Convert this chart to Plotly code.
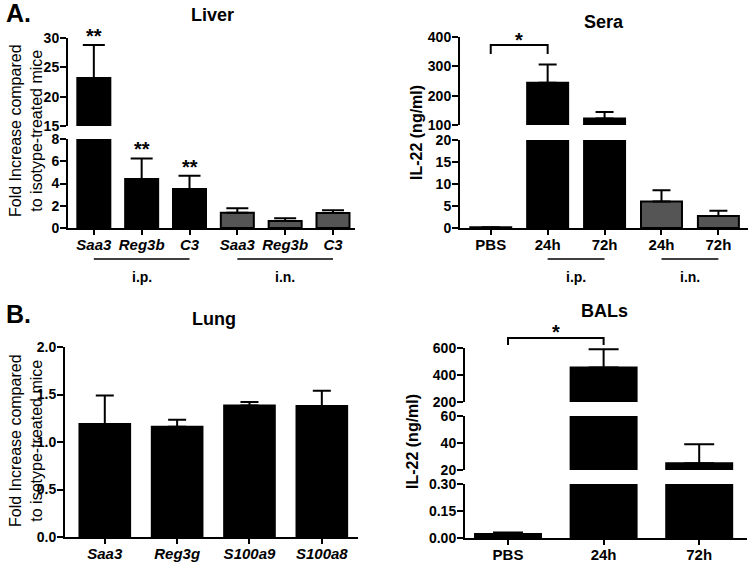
import plotly.graph_objects as go

W, H = 750, 562
FONT = "Liberation Sans, Arial, sans-serif"

# ---------------- data ----------------
liver_labels = ["Saa3", "Reg3b", "C3", "Saa3", "Reg3b", "C3"]
liver_mean = [23.2, 4.4, 3.5, 1.38, 0.63, 1.35]
liver_top = [28.8, 6.25, 4.7, 1.77, 0.87, 1.6]
liver_route = ["i.p.", "i.p.", "i.p.", "i.n.", "i.n.", "i.n."]

sera_labels = ["PBS", "24h", "72h", "24h", "72h"]
sera_mean = [0.15, 244, 122, 6.0, 2.7]
sera_top = [0.15, 306, 144, 8.6, 3.9]
sera_route = ["none", "i.p.", "i.p.", "i.n.", "i.n."]

lung_labels = ["Saa3", "Reg3g", "S100a9", "S100a8"]
lung_mean = [1.19, 1.16, 1.385, 1.38]
lung_top = [1.49, 1.235, 1.42, 1.54]

bal_labels = ["PBS", "24h", "72h"]
bal_mean = [0.022, 455, 25]
bal_top = [0.03, 590, 39]

liver_ticks_low = [0, 2, 4, 6, 8]
liver_ticks_high = [15, 20, 25, 30]
sera_ticks_low = [0, 5, 10, 15, 20]
sera_ticks_high = [100, 200, 300, 400]
lung_ticks = [0.0, 0.5, 1.0, 1.5, 2.0]
bal_ticks_low = [0.00, 0.15, 0.30]
bal_ticks_mid = [20, 40, 60]
bal_ticks_high = [200, 400, 600]


def px(x):
    return x / W


def py(y):
    return 1 - y / H


def colors(route):
    return ["#555555" if r == "i.n." else "black" for r in route]


fig = go.Figure()


def add_bars(xa, ya, mean, top, cols, width, cap):
    xs = list(range(len(mean)))
    fig.add_trace(go.Bar(
        x=xs, y=mean, xaxis=xa, yaxis=ya, width=width,
        marker=dict(color=cols, line=dict(color="black", width=2)),
        error_y=dict(type="data", symmetric=False,
                     array=[t - m for t, m in zip(top, mean)],
                     arrayminus=[0] * len(mean),
                     color="black", thickness=2, width=cap),
        showlegend=False, hoverinfo="skip"))


# Liver
for ya in ["y", "y2"]:
    add_bars("x", ya, liver_mean, liver_top, colors(liver_route), 0.69, 11)
# Sera
for ya in ["y3", "y4"]:
    add_bars("x2", ya, sera_mean, sera_top, colors(sera_route), 0.72, 9)
# Lung
add_bars("x3", "y5", lung_mean, lung_top, ["black"] * 4, 0.7, 9)
# BALs
for ya in ["y6", "y7", "y8"]:
    add_bars("x4", ya, bal_mean, bal_top, ["black"] * 3, 0.69, 15)

tickfont = dict(family=FONT, size=14, color="black", weight="bold")
catfont = dict(family=FONT, size=15, color="black", weight="bold")


def xax(d0, d1, rng, labels, anchor, italic):
    txt = [f"<i>{l}</i>" if italic else l for l in labels]
    return dict(domain=[px(d0), px(d1)], range=rng, anchor=anchor,
                showline=True, linecolor="black", linewidth=2,
                ticks="outside", ticklen=5, tickwidth=2, tickcolor="black",
                tickvals=list(range(len(labels))), ticktext=txt,
                ticklabelstandoff=-3,
                tickfont=catfont, showgrid=False, zeroline=False, fixedrange=True)


def yax(y_bottom, y_top, rng, tickvals, anchor, fmt=None):
    d = dict(domain=[py(y_bottom), py(y_top)], range=rng, anchor=anchor,
             showline=True, linecolor="black", linewidth=2,
             ticks="outside", ticklen=6, tickwidth=2, tickcolor="black",
             tickvals=tickvals, tickfont=tickfont, showgrid=False,
             ticklabelstandoff=-2,
             zeroline=False, fixedrange=True)
    if fmt:
        d["tickformat"] = fmt
    return d


fig.update_layout(
    width=W, height=H, margin=dict(l=0, r=0, t=0, b=0, autoexpand=False),
    plot_bgcolor="white", paper_bgcolor="white",
    font=dict(family=FONT, color="black"),
    xaxis=xax(68, 355, [-0.54, 5.46], liver_labels, "y", True),
    yaxis=yax(228, 139, [0, 8], liver_ticks_low, "x"),
    yaxis2=yax(126, 38, [15, 30], liver_ticks_high, "x"),
    xaxis2=xax(460, 748, [-0.54, 4.52], sera_labels, "y3", False),
    yaxis3=yax(228, 140, [0, 20], sera_ticks_low, "x2"),
    yaxis4=yax(125, 37, [100, 400], sera_ticks_high, "x2"),
    xaxis3=xax(65, 358, [-0.55, 3.5], lung_labels, "y5", True),
    yaxis5=yax(537, 347, [0, 2], lung_ticks, "x3", ".1f"),
    xaxis4=xax(465, 747, [-0.45, 2.5], bal_labels, "y6", False),
    yaxis6=yax(538, 484, [0, 0.3], bal_ticks_low, "x4", ".2f"),
    yaxis7=yax(470, 416, [20, 60], bal_ticks_mid, "x4"),
    yaxis8=yax(402, 348, [200, 600], bal_ticks_high, "x4"),
)

ann = []


def text(x, y, s, size, bold=True, angle=0, **kw):
    ann.append(dict(x=px(x), y=py(y), xref="paper", yref="paper", text=s,
                    showarrow=False, textangle=angle, xanchor="center", yanchor="middle",
                    font=dict(family=FONT, size=size, color="black",
                              weight="bold" if bold else "normal"), **kw))


# panel letters and titles
text(18, 13, "A.", 25)
text(18, 314, "B.", 25)
text(213, 15, "Liver", 18)
text(604, 22, "Sera", 18)
text(214, 319, "Lung", 18)
text(604, 311, "BALs", 18)
# y-axis titles
text(26, 131, "Fold Increase compared<br>to isotype-treated mice", 16, bold=False, angle=-90)
text(26, 441, "Fold Increase compared<br>to isotype-treated mice", 16, bold=False, angle=-90)
text(417, 133, "IL-22 (ng/ml)", 16, angle=-90)
text(412, 442, "IL-22 (ng/ml)", 16, angle=-90)

# significance stars over bars
for i, ya in [(0, "y2"), (1, "y"), (2, "y")]:
    ann.append(dict(x=i, y=liver_top[i], xref="x", yref=ya, text="**", showarrow=False,
                    yanchor="bottom", yshift=-4,
                    font=dict(family=FONT, size=20, color="black", weight="bold")))

# group labels and lines
shapes = []


def group(xref, i0, i1, label, ylinepx=259, ytextpx=277):
    shapes.append(dict(type="line", xref=xref, yref="paper", x0=i0, x1=i1,
                       y0=py(ylinepx), y1=py(ylinepx), line=dict(color="black", width=1.6)))
    ann.append(dict(x=(i0 + i1) / 2, y=py(ytextpx), xref=xref, yref="paper", text=label,
                    showarrow=False, xanchor="center", yanchor="middle",
                    font=dict(family=FONT, size=14, color="black", weight="bold")))


group("x", 0, 2, "i.p.")
group("x", 3, 5, "i.n.")
group("x2", 1, 2, "i.p.")
group("x2", 3, 4, "i.n.")


def bracket(xref, i0, i1, ytop, ybot, ystar):
    shapes.append(dict(type="path", xref=xref, yref="paper",
                       path=f"M {i0},{py(ybot)} L {i0},{py(ytop)} L {i1},{py(ytop)} L {i1},{py(ybot)}",
                       line=dict(color="black", width=2)))
    ann.append(dict(x=(i0 + i1) / 2, y=py(ystar), xref=xref, yref="paper", text="*",
                    showarrow=False, xanchor="center", yanchor="middle",
                    font=dict(family=FONT, size=20, color="black", weight="bold")))


bracket("x2", 0, 1, 45, 54, 40)
bracket("x4", 0, 1, 338, 345, 332)

fig.update_layout(annotations=ann, shapes=shapes)
fig.write_html("out.html", config={"displayModeBar": False},
               post_script="document.body.style.margin='0px';document.body.style.overflow='hidden';")
